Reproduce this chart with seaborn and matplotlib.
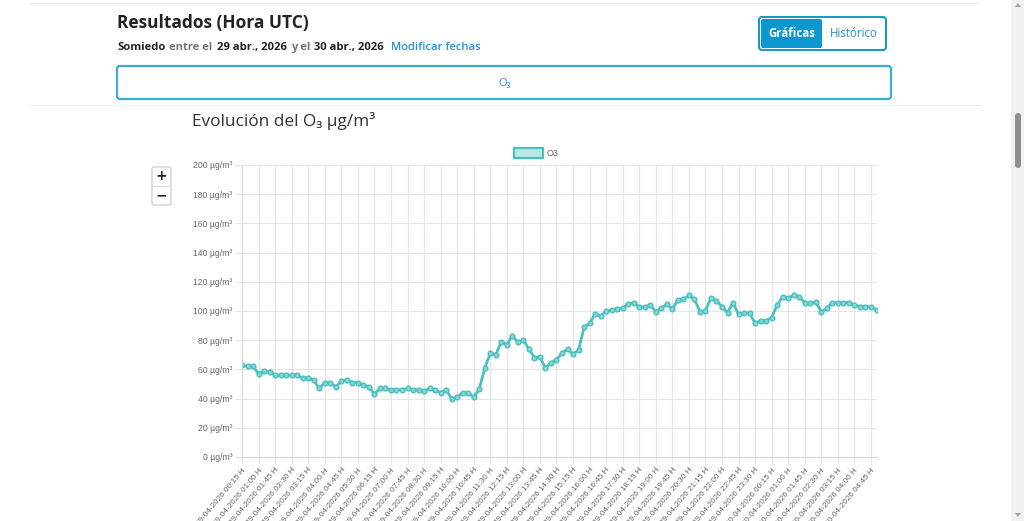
import matplotlib
matplotlib.use("Agg")
import matplotlib.pyplot as plt
import matplotlib.patches as mpatches
from matplotlib.transforms import IdentityTransform
import numpy as np
import pandas as pd
import seaborn as sns

# ---------------- data ----------------
start_time = "2026-04-29 00:15"
o3_values = [
    63, 62, 62, 57, 59, 58, 56, 56, 56, 56, 56, 54, 54, 52.5, 47, 51, 51, 48, 52, 53,
    51, 51, 49, 48, 43, 47, 47, 46, 46, 46, 47, 46, 46, 45, 47, 46, 44, 46, 40, 41,
    44, 44, 41, 46.5, 61, 71, 70, 79, 77, 83, 78.5, 80, 74, 68, 68.7, 60.7, 64.6, 66.4, 71.5, 73.7,
    70.5, 73.3, 88.8, 91.6, 98, 96.6, 99.8, 100.7, 101.4, 101.9, 104.8, 105.7, 102.8, 102.8, 104, 99.6, 101.9, 104.8, 101.4, 107.5,
    108, 110.7, 108, 99.6, 100.3, 108.9, 107, 103, 98.9, 105.7, 97.7, 98.9, 98.4, 91.6, 93.4, 93.4, 95.5, 104.2, 109.8, 108.7,
    111, 109.8, 105.7, 105.3, 106.4, 99.4, 101.9, 105.7, 105.7, 105.7, 105.7, 104.2, 103, 103, 103, 100.7,
]
times = pd.date_range(start_time, periods=len(o3_values), freq="15min")
time_labels = [t.strftime("%d-%m-%Y %H:%M H") for t in times]
y_ticks = [0, 20, 40, 60, 80, 100, 120, 140, 160, 180, 200]
y_tick_labels = [f"{v} µg/m³" for v in y_ticks]
series_name = "O3"

df = pd.DataFrame({"idx": np.arange(len(o3_values)), "value": o3_values, "serie": series_name})

# ---------------- figure ----------------
W, H = 1024, 521
sns.set_theme(style="white")
plt.rcParams["font.family"] = ["Liberation Sans", "DejaVu Sans"]
fig = plt.figure(figsize=(W / 100, H / 100), dpi=100)
fig.patch.set_facecolor("white")

def fx(x):
    return x / W

def fy(y):
    return 1 - y / H

page_font = ["Open Sans", "DejaVu Sans"]
PX = IdentityTransform()

def rect(x0, y0, x1, y1, fc="none", ec="none", lw=1.0, r=0, z=1, alpha=1.0):
    p = mpatches.FancyBboxPatch((x0, H - y1), x1 - x0, y1 - y0,
                                boxstyle=f"round,pad=0,rounding_size={r}",
                                fc=fc, ec=ec, lw=lw, transform=PX, zorder=z, alpha=alpha)
    fig.add_artist(p)
    return p

# ---------------- chart ----------------
L, R, T, B = 242, 876.5, 165, 457
ax = fig.add_axes([fx(L), fy(B), fx(R) - fx(L), fy(T) - fy(B)])
teal = (75 / 255, 192 / 255, 192 / 255)
sns.lineplot(data=df, x="idx", y="value", ax=ax, color=teal, lw=2.0,
             marker="o", markersize=3.4, markerfacecolor=(0.55, 0.83, 0.83),
             markeredgecolor=teal, markeredgewidth=1.0, legend=False)
ax.set_xlim(0, len(o3_values) - 1)
ax.set_ylim(0, 200)
ax.set_xlabel("")
ax.set_ylabel("")
xt = list(range(0, len(o3_values), 3))
ax.set_xticks(xt)
ax.set_xticklabels([time_labels[i] for i in xt], rotation=50, ha="right", va="top",
                   rotation_mode="anchor", fontsize=5.9, color="#666666")
ax.set_yticks(y_ticks)
ax.set_yticklabels(y_tick_labels, fontsize=6.2, color="#666666")
grid_c = "#e6e6e6"
ax.grid(True, color=grid_c, lw=0.8)
ax.tick_params(axis="both", length=5, color=grid_c, width=0.8, pad=2, bottom=True, left=True)
for s in ["top", "right"]:
    ax.spines[s].set_visible(False)
for s in ["left", "bottom"]:
    ax.spines[s].set_color("#d9d9d9")
    ax.spines[s].set_linewidth(0.8)
ax.set_facecolor("white")

# legend
rect(514, 148, 543, 158, fc=(0.75, 0.9, 0.9), ec=teal, lw=1.6, z=5)
fig.text(fx(547), fy(153.5), series_name, fontsize=6.5, color="#666666", va="center", ha="left")

# chart title
fig.text(fx(192), fy(121), "Evolución del O₃ µg/m³", fontsize=12.4, color="#333333",
         va="center", ha="left", family=page_font, fontweight="medium")

# zoom control
rect(152, 167, 171, 205, fc="white", ec="#c8c8c8", lw=0.8, r=2, z=5)
fig.add_artist(plt.Line2D([fx(153), fx(170)], [fy(186), fy(186)], color="#dddddd", lw=0.8, zorder=6))
fig.text(fx(161.5), fy(176.5), "+", fontsize=10, fontweight="bold", color="#222222",
         ha="center", va="center", family=["DejaVu Sans"], zorder=7)
fig.text(fx(161.5), fy(195), "−", fontsize=10, fontweight="bold", color="#222222",
         ha="center", va="center", family=["DejaVu Sans"], zorder=7)

# ---------------- page header ----------------
fig.add_artist(plt.Line2D([fx(30), fx(980)], [fy(3), fy(3)], color="#eeeeee", lw=0.8))
fig.text(fx(117), fy(23), "Resultados (Hora UTC)", fontsize=12.5, fontweight="bold",
         color="#222222", va="center", ha="left", family=page_font)
pieces = [
    ("Somiedo", "#222222", "bold", 4),
    ("entre el", "#777777", "bold", 4),
    ("29 abr., 2026", "#222222", "bold", 4),
    ("y el", "#777777", "bold", 4),
    ("30 abr., 2026", "#222222", "bold", 7),
    ("Modificar fechas", "#2a8fd6", "semibold", 0),
]
renderer = fig.canvas.get_renderer()
xcur = 117
for t, c, w, gap in pieces:
    txt = fig.text(fx(xcur), fy(47), t, fontsize=8.1, fontweight=w, color=c, va="center",
                   ha="left", family=page_font)
    bb = txt.get_window_extent(renderer)
    xcur = bb.x1 + gap

# buttons
rect(759, 17, 886, 50, fc="white", ec="#1b9ac9", lw=1.5, r=3, z=4)
rect(761, 19, 822, 48, fc="#0d97d1", ec="none", r=2, z=5)
fig.text(fx(791.5), fy(33.5), "Gráficas", fontsize=8.3, fontweight="bold", color="white",
         ha="center", va="center", family=page_font, zorder=6)
fig.text(fx(853.5), fy(33.5), "Histórico", fontsize=8.3, color="#2a8fd6",
         ha="center", va="center", family=page_font, zorder=6)

# O3 tab box
rect(117, 66, 891, 99, fc="white", ec="#39aed0", lw=1.6, r=3, z=4)
fig.text(fx(505), fy(83), "O₃", fontsize=8, color="#2a8fd6", ha="center", va="center",
         family=page_font, zorder=6)
fig.add_artist(plt.Line2D([fx(30), fx(980)], [fy(105), fy(105)], color="#eeeeee", lw=0.8))

# scrollbar
rect(1011, 0, 1024, 521, fc="#f1f1f1", ec="none", z=3)
rect(1015, 113, 1021, 168, fc="#8f8f8f", ec="none", r=3, z=4)
fig.add_artist(mpatches.Polygon([[1015, H - 7], [1021, H - 7], [1018, H - 3]], closed=True,
                                fc="#a3a3a3", ec="none", transform=PX, zorder=4))
fig.add_artist(mpatches.Polygon([[1015, H - 513], [1021, H - 513], [1018, H - 517]], closed=True,
                                fc="#a3a3a3", ec="none", transform=PX, zorder=4))

fig.savefig("out.png", dpi=100, facecolor="white")
